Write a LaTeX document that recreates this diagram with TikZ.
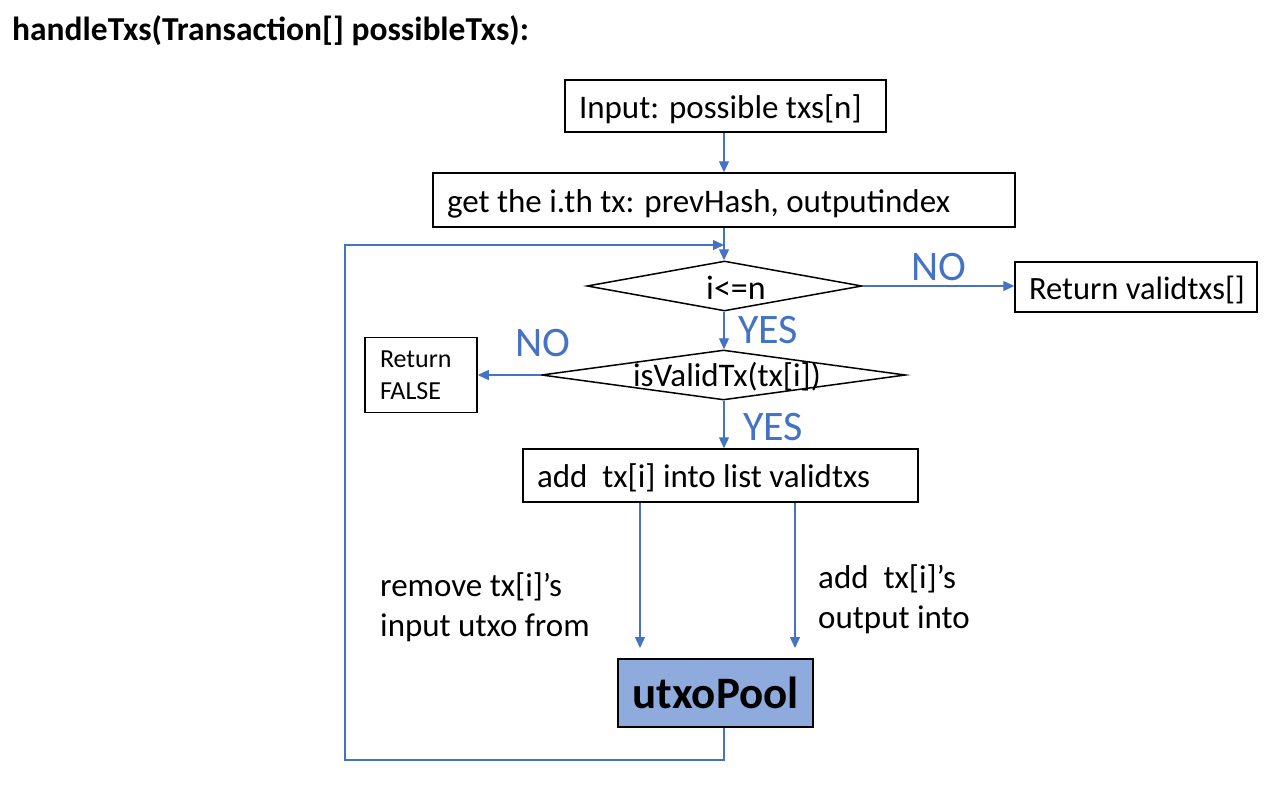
\documentclass[tikz,border=0pt]{standalone}
\usepackage{fontspec}
\setmainfont{Carlito}
\usetikzlibrary{arrows.meta,shapes.geometric}
\definecolor{conn}{HTML}{4472C4}
\definecolor{poolfill}{HTML}{8FAADC}
\begin{document}
\begin{tikzpicture}[x=1pt,y=-1pt,
  box/.style={draw=black, line width=1.5pt, inner xsep=14pt, inner ysep=0pt, text width=#1, text height=28pt, text depth=4pt, align=flush left, minimum height=52pt, font=\fontsize{33}{40}\selectfont},
  dia/.style={draw=black, line width=1.5pt, diamond, inner sep=0pt},
  arr/.style={draw=conn, line width=1.3pt, -{Triangle[length=11pt,width=10pt]}},
  lbl/.style={text=conn, font=\fontsize{42}{42}\selectfont, inner sep=0pt},
  txt/.style={font=\fontsize{33}{40}\selectfont, align=flush left, inner sep=0pt}
]
\useasboundingbox (0,0) rectangle (1280,790);

\node[anchor=west, inner sep=0pt, font=\bfseries\fontsize{33.5}{34}\selectfont] (title) at (12,31) {handleTxs(Transaction[] possibleTxs):};

\node[box=293pt] (in) at (725.5,106) {Input: possible txs[n]};
\node[box=554pt, minimum height=54pt] (get) at (724,200) {get the i.th tx: prevHash, outputindex};

\node[dia, minimum width=275pt, minimum height=50pt] (d1) at (724.5,286) {};
\node[txt, font=\fontsize{34}{40}\selectfont] (d1t) at (736,288) {i<=n};

\node[box=218pt, inner xsep=12pt, minimum height=50pt, font=\fontsize{32.5}{40}\selectfont] (retv) at (1136,287) {\hspace*{2pt}Return validtxs[]};

\node[dia, minimum width=364pt, minimum height=50pt] (d2) at (723.5,375) {};
\node[txt] (d2t) at (727,377) {isValidTx(tx[i])};

\node[draw=black, line width=1.5pt, inner xsep=15pt, inner ysep=0pt, text width=82pt, align=flush left, minimum height=75pt, font=\fontsize{26}{32}\selectfont] (retf) at (421,375) {Return\\FALSE};

\node[box=367pt, minimum height=53pt] (add) at (720.5,475.5) {add~ tx[i] into list validtxs};

\node[draw=black, line width=1.5pt, fill=poolfill, minimum width=195pt, minimum height=68pt, inner sep=0pt, font=\bfseries\fontsize{45}{45}\selectfont] (pool) at (715.5,693) {utxoPool};

\node[txt, anchor=north west] (rm) at (380,572) {remove tx[i]’s\\input utxo from};
\node[txt, anchor=north west] (ad) at (818,564) {add~ tx[i]’s\\output into};

\node[lbl] (no1) at (939,267) {NO};
\node[lbl] (no2) at (543,343) {NO};
\node[lbl] (yes1) at (768,330) {YES};
\node[lbl] (yes2) at (773,427) {YES};

\coordinate (j) at (724,245);
\coordinate (lb) at (345,760);
\coordinate (a1) at (640,648);
\coordinate (a2) at (795,648);

\draw[arr] (in.south -| j) -- (get.north -| j);
\draw[arr] (get.south -| j) -- (d1.north -| j);
\draw[arr] (pool.south -| j) |- (lb) |- (j);
\draw[arr] (d1.east) -- (retv.west |- d1.east);
\draw[arr] (d1.south -| j) -- (d2.north -| j);
\draw[arr] (d2.west) -- (retf.east);
\draw[arr] (d2.south -| j) -- (add.north -| j);
\draw[arr] (add.south -| a1) -- (a1);
\draw[arr] (add.south -| a2) -- (a2);
\end{tikzpicture}
\end{document}
